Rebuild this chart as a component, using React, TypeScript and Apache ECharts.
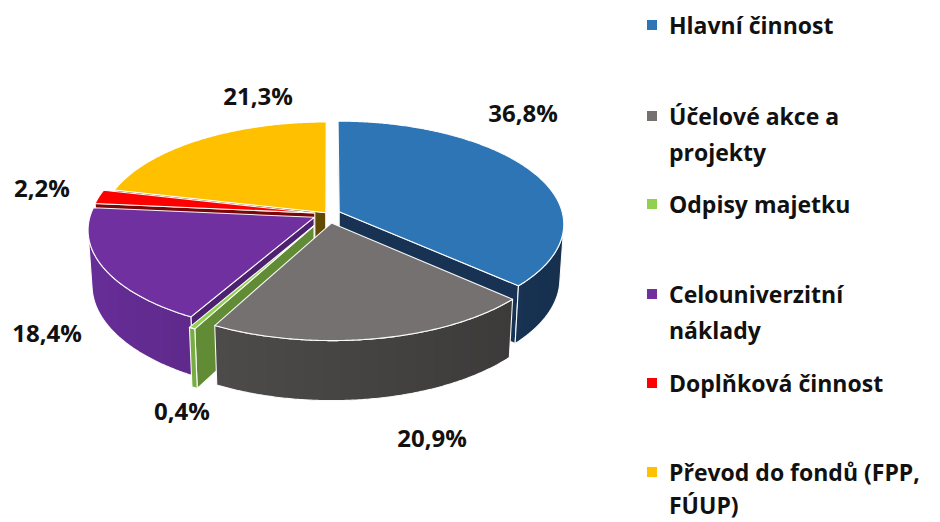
import React, { useEffect, useRef } from 'react';
import * as echarts from 'echarts';

// ---------- data ----------
const categories = [
  'Hlavní činnost',
  'Účelové akce a\nprojekty',
  'Odpisy majetku',
  'Celouniverzitní\nnáklady',
  'Doplňková činnost',
  'Převod do fondů (FPP,\nFÚUP)',
];
const shares = [36.8, 20.9, 0.4, 18.4, 2.2, 21.3];

// ---------- style / layout ----------
const topColors = ['#2E75B6', '#767171', '#92D050', '#7030A0', '#FF0000', '#FFC000'];
const sideColors = ['#1B3B60', '#474444', '#6E9E3C', '#56267F', '#8A0808', '#6E5500'];
const explode = [0.055, 0.09, 0.13, 0.07, 0.06, 0.015];
const labelPos = [
  [523, 112],
  [432, 437],
  [182, 410],
  [47, 332],
  [42, 187],
  [258, 95],
];
const legendCenters = [25, 116, 204, 294, 383, 472];
const legendLineHeights = [36, 36, 36, 36, 36, 33];
const FONT = '"Open Sans", "DejaVu Sans", sans-serif';

// ---------- 3D projection ----------
const CX = 328;
const CY = 214;
const F = 1716;
const DIST = 7.68;
const PHI = (27.05 * Math.PI) / 180;
const H = 0.279;
const sinP = Math.sin(PHI);
const cosP = Math.cos(PHI);
const cam = [0, DIST * cosP, DIST * sinP];

function proj(p: number[]): number[] {
  const [X, Y, Z] = p;
  const yd = Y * sinP - Z * cosP;
  const d = DIST - (Y * cosP + Z * sinP);
  return [CX + (F * X) / d, CY + (F * yd) / d];
}
function visible(n: number[], p: number[]): boolean {
  return n[0] * (cam[0] - p[0]) + n[1] * (cam[1] - p[1]) + n[2] * (cam[2] - p[2]) > 0;
}
function shade(hex: string, k: number): string {
  const h = hex.replace('#', '');
  const r = parseInt(h.slice(0, 2), 16);
  const g = parseInt(h.slice(2, 4), 16);
  const b = parseInt(h.slice(4, 6), 16);
  const c = (v: number) => Math.max(0, Math.min(255, Math.round(v * k)));
  return `rgb(${c(r)},${c(g)},${c(b)})`;
}

const total = shares.reduce((a, b) => a + b, 0);
const startAngles: number[] = [];
{
  let acc = 0;
  shares.forEach((v) => {
    startAngles.push((acc / total) * Math.PI * 2);
    acc += v;
  });
}
function midAngle(i: number) {
  return startAngles[i] + ((shares[i] / total) * Math.PI * 2) / 2;
}
// draw order: back to front
const order = shares
  .map((_, i) => i)
  .sort((a, b) => -Math.cos(midAngle(a)) - -Math.cos(midAngle(b)));
const rank: number[] = [];
order.forEach((idx, r) => (rank[idx] = r));

const STROKE = 'rgba(255,255,255,0.95)';

function renderSlice(i: number, value: number) {
  const a0 = startAngles[i];
  const a1 = a0 + (value / total) * Math.PI * 2;
  const m = (a0 + a1) / 2;
  const e = explode[i];
  const ox = e * Math.sin(m);
  const oy = -e * Math.cos(m);
  const rim = (a: number, z: number) => [ox + Math.sin(a), oy - Math.cos(a), z];
  const apex = (z: number) => [ox, oy, z];
  const children: any[] = [];
  const poly = (pts: number[][], fill: any, z2: number) => ({
    type: 'polygon',
    z2,
    shape: { points: pts.map(proj) },
    style: { fill, stroke: STROKE, lineWidth: 1.1, lineJoin: 'round' },
  });

  // radial faces
  const sn = [-Math.cos(a0), -Math.sin(a0), 0];
  const sp = [ox + 0.5 * Math.sin(a0), oy - 0.5 * Math.cos(a0), -H / 2];
  if (visible(sn, sp)) {
    children.push(poly([apex(0), rim(a0, 0), rim(a0, -H), apex(-H)], shade(sideColors[i], 0.88), 1));
  }
  const en = [Math.cos(a1), Math.sin(a1), 0];
  const ep = [ox + 0.5 * Math.sin(a1), oy - 0.5 * Math.cos(a1), -H / 2];
  if (visible(en, ep)) {
    children.push(poly([apex(0), rim(a1, 0), rim(a1, -H), apex(-H)], shade(sideColors[i], 0.85), 1));
  }

  // outer side
  const steps = Math.max(2, Math.ceil((a1 - a0) / ((0.5 * Math.PI) / 180)));
  const angs: number[] = [];
  for (let k = 0; k <= steps; k++) angs.push(a0 + ((a1 - a0) * k) / steps);
  const vis = angs.filter((a) => visible([Math.sin(a), -Math.cos(a), 0], rim(a, -H / 2)));
  if (vis.length >= 2) {
    const topPts = vis.map((a) => rim(a, 0));
    const botPts = vis.map((a) => rim(a, -H)).reverse();
    const pts = topPts.concat(botPts);
    const sp2 = pts.map(proj);
    const xs = sp2.map((p) => p[0]);
    const minX = Math.min(...xs);
    const maxX = Math.max(...xs);
    const w = Math.max(1, maxX - minX);
    const stops = vis
      .map((a) => {
        const x = proj(rim(a, 0))[0];
        return { offset: Math.max(0, Math.min(1, (x - minX) / w)), color: shade(sideColors[i], 1 - 0.2 * Math.sin(a)) };
      })
      .sort((p, q) => p.offset - q.offset);
    const fill = new echarts.graphic.LinearGradient(0, 0, 1, 0, stops);
    children.push({
      type: 'polygon',
      z2: 2,
      shape: { points: sp2 },
      style: { fill, stroke: STROKE, lineWidth: 1.1, lineJoin: 'round' },
    });
  }

  // top face
  const topPoly = [apex(0)].concat(angs.map((a) => rim(a, 0)));
  children.push(poly(topPoly, topColors[i], 3));

  // label
  children.push({
    type: 'text',
    z2: 10,
    x: labelPos[i][0],
    y: labelPos[i][1],
    style: {
      text: value.toFixed(1).replace('.', ',') + '%',
      fontFamily: FONT,
      fontWeight: 'bold',
      fontSize: 24,
      fill: '#111',
      align: 'center',
      verticalAlign: 'middle',
    },
  });
  return { type: 'group', children };
}

const option: any = {
  animation: false,
  backgroundColor: '#ffffff',
  legend: categories.map((name, i) => {
    const twoLines = name.includes('\n');
    const LH = legendLineHeights[i];
    return {
      data: [name],
      orient: 'vertical',
      left: 647,
      top: legendCenters[i] - (twoLines ? 1.5 * LH : LH / 2),
      padding: 0,
      itemWidth: 10,
      itemHeight: 10,
      icon: 'rect',
      selectedMode: false,
      formatter: (n: string) => (n.includes('\n') ? '\n' + n : n),
      textStyle: {
        fontFamily: FONT,
        fontWeight: 'bold',
        fontSize: 23,
        color: '#111',
        lineHeight: LH,
        padding: [0, 0, 0, 7],
      },
    };
  }),
  series: categories.map((name, i) => ({
    type: 'custom',
    name,
    coordinateSystem: 'none',
    z: 2 + rank[i],
    itemStyle: { color: topColors[i] },
    data: [[shares[i]]],
    renderItem: (_params: any, api: any) => renderSlice(i, api.value(0)),
  })),
};

export default function App() {
  const ref = useRef<HTMLDivElement>(null);
  useEffect(() => {
    document.body.style.margin = '0';
    const chart = echarts.init(ref.current!, null, { renderer: 'svg' });
    chart.setOption(option);
    return () => chart.dispose();
  }, []);
  return <div ref={ref} style={{ width: 940, height: 522 }} />;
}
